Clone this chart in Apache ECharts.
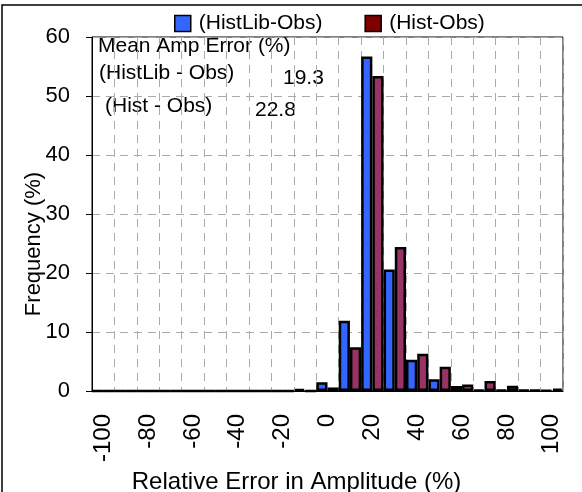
<!DOCTYPE html>
<html>
<head>
<meta charset="utf-8">
<script src="https://cdn.jsdelivr.net/npm/echarts@6/dist/echarts.min.js"></script>
<style>
  html, body { margin: 0; padding: 0; background: #fff; }
  #chart { width: 582px; height: 492px; }
</style>
</head>
<body>
<div id="chart"></div>
<script>
// bins of relative error (%)
const bins = ['-100', '-90', '-80', '-70', '-60', '-50', '-40', '-30', '-20', '-10',
  '0', '10', '20', '30', '40', '50', '60', '70', '80', '90', '100'];
// frequency (%) per bin
const histLibObs = [0, 0, 0, 0, 0, 0, 0, 0, 0, 0.3, 1.5, 11.9, 56.7, 20.6, 5.3, 2.0, 0.85, 0.2, 0.2, 0.15, 0.1];
const histObs = [0, 0, 0, 0, 0, 0, 0, 0, 0, 0, 0.6, 7.4, 53.4, 24.4, 6.3, 4.1, 1.1, 1.7, 0.9, 0.15, 0.4];
const seriesNames = ['(HistLib-Obs)', '(Hist-Obs)'];
const meanErrors = ['19.3', '22.8'];

const font = 'Liberation Sans, Arial, sans-serif';
const chart = echarts.init(document.getElementById('chart'));

const option = {
  animation: false,
  backgroundColor: '#fff',
  textStyle: { fontFamily: font, color: '#000' },
  legend: {
    top: 8,
    left: 169,
    itemWidth: 16,
    itemHeight: 16,
    itemGap: 42,
    textStyle: { fontSize: 21, color: '#000', padding: [0, 0, 0, 3] },
    data: [
      { name: seriesNames[0], icon: 'rect', itemStyle: { color: '#3366FF', borderColor: '#000', borderWidth: 1.5 } },
      { name: seriesNames[1], icon: 'rect', itemStyle: { color: '#800000', borderColor: '#000', borderWidth: 1.5 } }
    ]
  },
  grid: {
    left: 92, right: 19, top: 37, bottom: 101,
    outerBoundsMode: 'none',
    show: true, borderColor: '#000', borderWidth: 1
  },
  xAxis: {
    type: 'category',
    data: bins,
    name: 'Relative Error in Amplitude (%)',
    nameLocation: 'middle',
    nameGap: 72,
    nameTextStyle: { fontSize: 24, color: '#000', padding: [0, 62, 0, 0] },
    axisLine: { lineStyle: { color: '#000', width: 1 } },
    axisTick: { show: false },
    axisLabel: { interval: 1, rotate: 90, margin: 23, fontSize: 24, color: '#000' },
    splitLine: { show: true, interval: 0, lineStyle: { color: '#aaa', type: [8, 6], width: 1 } }
  },
  yAxis: {
    type: 'value',
    min: 0, max: 60, interval: 10,
    name: 'Frequency (%)',
    nameLocation: 'middle',
    nameGap: 47,
    nameMoveOverlap: false,
    nameTextStyle: { fontSize: 22, color: '#000', padding: [0, 60, 0, 0] },
    axisLine: { show: true, lineStyle: { color: '#000', width: 1 } },
    axisTick: { show: true, inside: false, length: 6, lineStyle: { color: '#000' } },
    axisLabel: { margin: 22, fontSize: 22, color: '#000' },
    splitLine: { show: true, lineStyle: { color: '#aaa', type: [8, 6], width: 1 } }
  },
  series: [
    {
      name: seriesNames[0], type: 'bar', data: histLibObs,
      barGap: '0%', barCategoryGap: '0%',
      itemStyle: { color: '#3366FF', borderColor: '#000', borderWidth: 2.5 }
    },
    {
      name: seriesNames[1], type: 'bar', data: histObs,
      barGap: '0%', barCategoryGap: '0%',
      itemStyle: { color: '#993366', borderColor: '#000', borderWidth: 2.5 }
    }
  ],
  graphic: [
    { type: 'rect', silent: true, z: -10, shape: { x: 2, y: 5, width: 700, height: 700 },
      style: { fill: 'none', stroke: '#000', lineWidth: 1.5 } },
    { type: 'text', left: 98, top: 36, style: { text: 'Mean Amp Error (%)', font: '21px ' + font, fill: '#000' } },
    { type: 'text', left: 99, top: 63, style: { text: '(HistLib - Obs)', font: '21px ' + font, fill: '#000' } },
    { type: 'text', left: 283, top: 68, style: { text: meanErrors[0], font: '21px ' + font, fill: '#000' } },
    { type: 'text', left: 105, top: 96, style: { text: '(Hist - Obs)', font: '21px ' + font, fill: '#000' } },
    { type: 'text', left: 255, top: 100, style: { text: meanErrors[1], font: '21px ' + font, fill: '#000' } }
  ]
};

chart.setOption(option);
</script>
</body>
</html>
